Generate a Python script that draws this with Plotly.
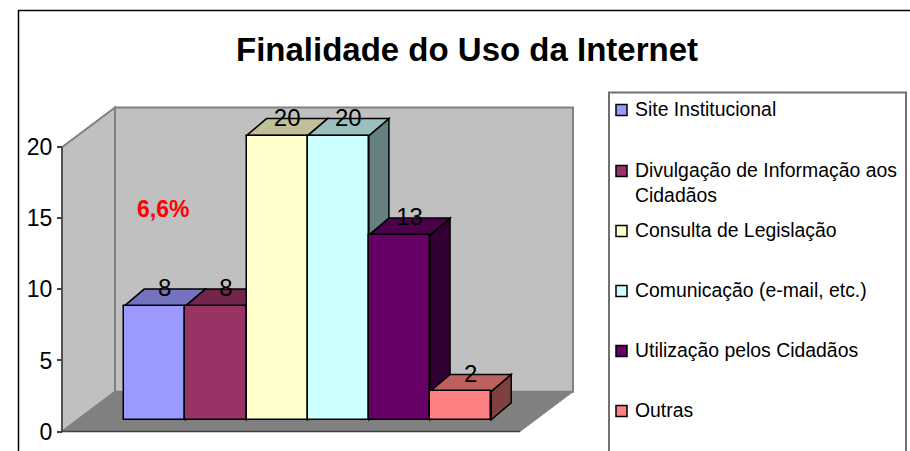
import plotly.graph_objects as go

TITLE = "Finalidade do Uso da Internet"
CATEGORIES = ["Site Institucional", "Divulgação de Informação aos<br>Cidadãos", "Consulta de Legislação",
              "Comunicação (e-mail, etc.)", "Utilização pelos Cidadãos", "Outras"]
VALUES = [8, 8, 20, 20, 13, 2]
COLORS = [(0x99, 0x99, 0xFF), (0x99, 0x33, 0x66), (0xFF, 0xFF, 0xCC),
          (0xCC, 0xFF, 0xFF), (0x66, 0x00, 0x66), (0xFF, 0x80, 0x80)]
TICKS = [0, 5, 10, 15, 20]
NOTE = "6,6%"
NOTE_VALUE = 15.66

W, H = 910, 451
FONT = "Liberation Sans"
PX_X0, PX_PER_CAT = 154.8, 61.17      # centre of first category, category width
PX_Y0, PX_PER_VAL = 431.5, 14.21      # value zero, pixels per value unit


def vx(px):
    return (px - PX_X0) / PX_PER_CAT


def vy(py):
    return (PX_Y0 - py) / PX_PER_VAL


def rgb(c, k=1.0):
    return "rgb(%d,%d,%d)" % tuple(round(v * k) for v in c)


def path(points):
    return "M " + " L ".join(f"{x:.4f},{y:.4f}" for x, y in points) + " Z"


# depth of the bars and of the room, in axis units
BAR_LIFT = 11.7 / PX_PER_VAL
BAR_DX = 20 / PX_PER_CAT
BAR_DY = 17 / PX_PER_VAL
WALL_DX = 53 / PX_PER_CAT
WALL_DY = 39.8 / PX_PER_VAL
AX_LEFT = vx(62)
AX_RIGHT = vx(520)
AX_TOP = TICKS[-1]

shapes = []


def add_face(points, fill, line, width=1.5):
    shapes.append(dict(type="path", xref="x", yref="y", layer="below", path=path(points),
                       fillcolor=fill, line=dict(color=line, width=width)))


# walls and floor
add_face([(AX_LEFT + WALL_DX, WALL_DY), (AX_RIGHT + WALL_DX, WALL_DY),
          (AX_RIGHT + WALL_DX, AX_TOP + WALL_DY), (AX_LEFT + WALL_DX, AX_TOP + WALL_DY)], "#C0C0C0", "#808080", 2)
add_face([(AX_LEFT, 0), (AX_LEFT + WALL_DX, WALL_DY), (AX_LEFT + WALL_DX, AX_TOP + WALL_DY), (AX_LEFT, AX_TOP)],
         "#C0C0C0", "#808080", 2)
add_face([(AX_LEFT, 0), (AX_RIGHT, 0), (AX_RIGHT + WALL_DX, WALL_DY), (AX_LEFT + WALL_DX, WALL_DY)],
         "#808080", "#808080", 1)
shapes.append(dict(type="line", xref="x", yref="y", layer="below", x0=AX_LEFT, x1=AX_RIGHT, y0=0, y1=0,
                   line=dict(color="#404040", width=1.5)))
shapes.append(dict(type="line", xref="x", yref="y", layer="below", x0=AX_LEFT, x1=AX_LEFT, y0=0, y1=AX_TOP,
                   line=dict(color="#404040", width=1.5)))

# side and top faces of each bar, built from its value
for i, (v, c) in enumerate(zip(VALUES, COLORS)):
    xr = i + 0.5
    xl = i - 0.5
    top = v + BAR_LIFT
    add_face([(xr, BAR_LIFT), (xr + BAR_DX, BAR_LIFT + BAR_DY), (xr + BAR_DX, top + BAR_DY), (xr, top)],
             rgb(c, 0.5), "black")
    add_face([(xl, top), (xr, top), (xr + BAR_DX, top + BAR_DY), (xl + BAR_DX, top + BAR_DY)],
             rgb(c, 0.75), "black")

# chart frame and legend box (both run off the picture)
shapes.append(dict(type="path", xref="paper", yref="paper", layer="above",
                   path=f"M {18.5/W},0 L {18.5/W},{1-10.5/H} L 1,{1-10.5/H}",
                   line=dict(color="black", width=1.5)))
shapes.append(dict(type="path", xref="paper", yref="paper", layer="above",
                   path=f"M {609/W},0 L {609/W},{1-92.5/H} L {906/W},{1-92.5/H} L {906/W},0",
                   line=dict(color="#707070", width=2)))

fig = go.Figure()

# front faces
for i, (name, v, c) in enumerate(zip(CATEGORIES, VALUES, COLORS)):
    fig.add_trace(go.Bar(x=[i], y=[v], base=[BAR_LIFT], width=1, name=name.replace("<br>", " "),
                         marker=dict(color=rgb(c), line=dict(color="black", width=1.5)),
                         showlegend=False))

# value labels
fig.add_trace(go.Scatter(x=[i + BAR_DX / 2 for i in range(len(VALUES))],
                         y=[v + BAR_LIFT + BAR_DY - 0.08 for v in VALUES],
                         mode="text", text=[str(v) for v in VALUES], textposition="middle center",
                         textfont=dict(family=FONT, size=24, color="black"), showlegend=False, hoverinfo="skip"))

# legend
LEGEND_ROWS = [109, 182.5, 230, 290, 350, 410]
SWATCH_ROWS = [110, 171, 231, 291, 351, 411]
fig.add_trace(go.Scatter(x=[vx(621.5)] * 6, y=[vy(r) for r in SWATCH_ROWS], mode="markers",
                         marker=dict(symbol="square", size=11, color=[rgb(c) for c in COLORS],
                                     line=dict(color="black", width=1.5)),
                         showlegend=False, hoverinfo="skip"))

annotations = [dict(xref="paper", yref="paper", x=633 / W, y=1 - r / H, xanchor="left", yanchor="middle",
                    align="left", text=t, showarrow=False, font=dict(family=FONT, size=19.4, color="black"))
               for t, r in zip(CATEGORIES, LEGEND_ROWS)]
annotations.append(dict(xref="paper", yref="paper", x=467 / W, y=1 - 49 / H, xanchor="center", yanchor="middle",
                        text=f"<b>{TITLE}</b>", showarrow=False, font=dict(family=FONT, size=33, color="black")))
annotations.append(dict(xref="x", yref="y", x=vx(162.5), y=NOTE_VALUE, xanchor="center", yanchor="middle",
                        text=f"<b>{NOTE}</b>", showarrow=False, font=dict(family=FONT, size=23, color="#FF0000")))

fig.update_layout(
    width=W, height=H, margin=dict(l=0, r=0, t=0, b=0), paper_bgcolor="white", plot_bgcolor="rgba(0,0,0,0)",
    barmode="overlay", bargap=0, showlegend=False, shapes=shapes, annotations=annotations,
    xaxis=dict(range=[vx(0), vx(W)], visible=False, fixedrange=True),
    yaxis=dict(range=[vy(H), vy(0)], anchor="free", position=62 / W, tickvals=TICKS, ticks="outside",
               ticklen=5, tickwidth=1.5, tickcolor="#404040", showgrid=False, zeroline=False, showline=False,
               tickfont=dict(family=FONT, size=23, color="black"), fixedrange=True),
)

fig.write_html("out.html", config=dict(displayModeBar=False),
               post_script="document.body.style.margin='0';document.body.style.overflow='hidden';")
